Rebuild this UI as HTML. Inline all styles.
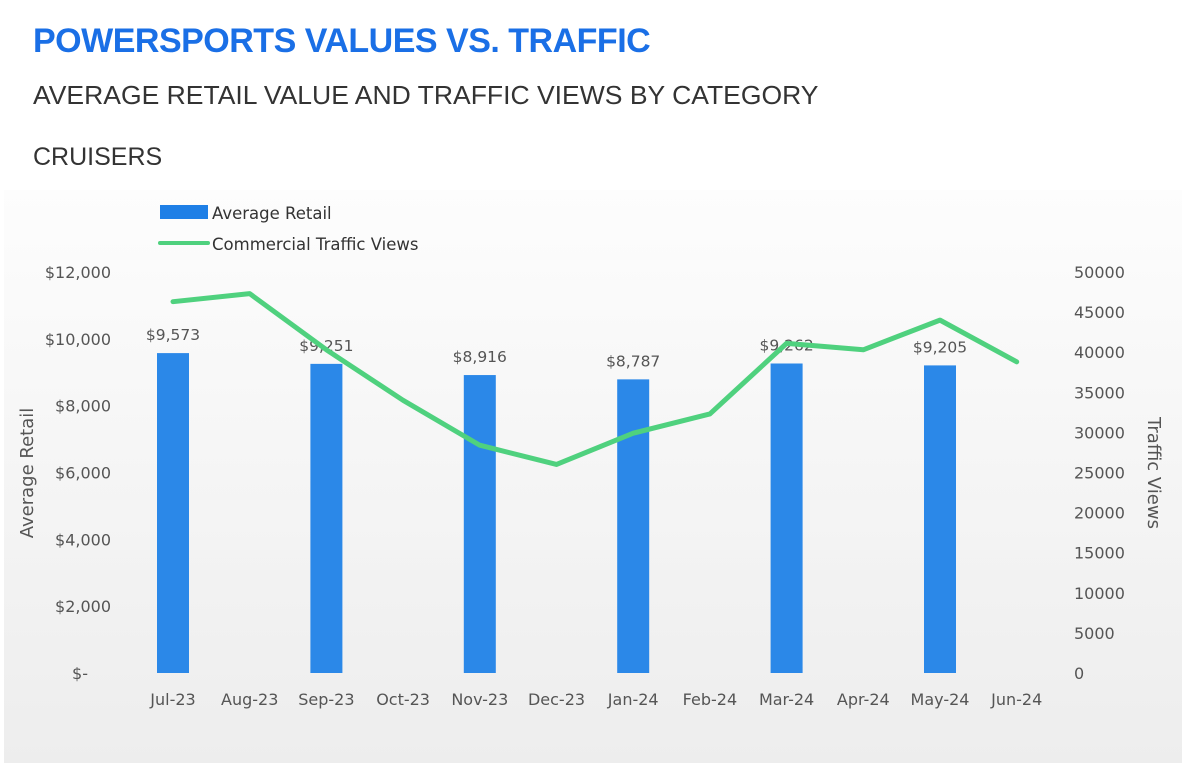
<!DOCTYPE html>
<html><head><meta charset="utf-8"><style>
body{margin:0;width:1186px;height:763px;background:#fff;overflow:hidden;font-family:"Liberation Sans",sans-serif;position:relative}
#title{position:absolute;left:33px;top:22px;font-size:34px;font-weight:bold;color:#1a6fe6;letter-spacing:-0.5px;transform:scaleX(1.0);transform-origin:left}
#sub{position:absolute;left:33px;top:80px;font-size:26px;color:#333;transform:scaleX(1.02);transform-origin:left}
#cat{position:absolute;left:33px;top:143px;font-size:25px;color:#333;transform:scaleX(1.0);transform-origin:left}
svg{position:absolute;left:0;top:0}
text{font-family:"DejaVu Sans","Liberation Sans",sans-serif;fill:#555}
</style></head><body>
<div id="title">POWERSPORTS VALUES VS. TRAFFIC</div>
<div id="sub">AVERAGE RETAIL VALUE AND TRAFFIC VIEWS BY CATEGORY</div>
<div id="cat">CRUISERS</div>
<svg id="chart" width="1186" height="763">
<defs><linearGradient id="bg" x1="0" y1="0" x2="0" y2="1"><stop offset="0" stop-color="#fdfdfd"/><stop offset="1" stop-color="#ededed"/></linearGradient></defs>
<rect x="4" y="190" width="1178" height="573" fill="url(#bg)"/>
<g>
<rect x="160" y="205" width="48" height="14" fill="#1e7fe6"/>
<text x="212" y="219" font-size="16.5" style="fill:#333">Average Retail</text>
<line x1="160" y1="243" x2="208" y2="243" stroke="#4fd17e" stroke-width="4" stroke-linecap="round"/>
<text x="212" y="250" font-size="16.5" style="fill:#333">Commercial Traffic Views</text>
</g>
<text x="-473" y="33" font-size="18" transform="rotate(-90)" text-anchor="middle">Average Retail</text>
<text x="473" y="-1148" font-size="18" transform="rotate(90)" text-anchor="middle">Traffic Views</text>
<g id="marks"></g>
</svg>
<script>
const categories=["Jul-23","Aug-23","Sep-23","Oct-23","Nov-23","Dec-23","Jan-24","Feb-24","Mar-24","Apr-24","May-24","Jun-24"];
const retail=[9573,null,9251,null,8916,null,8787,null,9262,null,9205,null];
const retailLabels=["$9,573","","$9,251","","$8,916","","$8,787","","$9,262","","$9,205",""];
const traffic=[46300,47300,40300,34000,28400,26000,29900,32300,41100,40300,44000,38800];
const leftTicks=[0,2000,4000,6000,8000,10000,12000];
const leftTickLabels=["$-","$2,000","$4,000","$6,000","$8,000","$10,000","$12,000"];
const rightTicks=[0,5000,10000,15000,20000,25000,30000,35000,40000,45000,50000];
const NS="http://www.w3.org/2000/svg";
const g=document.getElementById('marks');
const x=i=>173+i*76.7;
const yL=v=>673-v/12000*401;
const yR=v=>673-v/50000*401;
function el(t,a,txt){const e=document.createElementNS(NS,t);for(const k in a)e.setAttribute(k,a[k]);if(txt!==undefined)e.textContent=txt;g.appendChild(e);return e;}
leftTicks.forEach((v,i)=>{const t=el('text',{x:i==0?88:111,y:yL(v)+6,'font-size':16,'text-anchor':'end'},leftTickLabels[i]);

});
rightTicks.forEach(v=>{const t=el('text',{x:1074,y:yR(v)+6,'font-size':16},String(v));

});
categories.forEach((c,i)=>{const t=el('text',{x:x(i),y:705,'font-size':16,'text-anchor':'middle'},c);

});
retail.forEach((v,i)=>{if(v==null)return;
const r=el('rect',{x:x(i)-16,y:yL(v),width:32,height:673-yL(v),fill:'#2b88e8'});


const t=el('text',{x:x(i),y:yL(v)-13,'font-size':15.5,'text-anchor':'middle'},retailLabels[i]);

});
const p=el('polyline',{points:traffic.map((v,i)=>x(i)+','+yR(v)).join(' '),fill:'none',stroke:'#4fd17e','stroke-width':5,'stroke-linejoin':'round','stroke-linecap':'round'});


</script>
</body></html>
